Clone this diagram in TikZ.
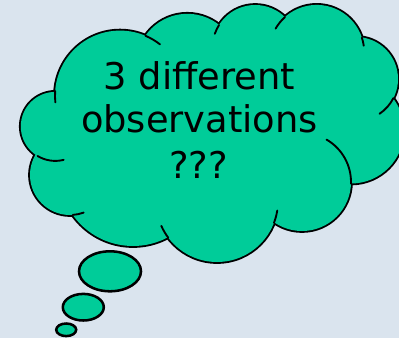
\documentclass[tikz,border=0pt]{standalone}
\usepackage{fontspec}
\setmainfont{DejaVu Sans}
\definecolor{bg}{RGB}{218,228,238}
\definecolor{cloud}{RGB}{0,204,153}
\begin{document}
\begin{tikzpicture}[x=0.75pt,y=-0.75pt,
  lobe/.style={draw=black,line width=2.8pt},
  stub/.style={draw=black,line width=1.4pt,line cap=round},
  bubble/.style={draw=black,fill=cloud,line width=1.9pt},
  txt/.style={font=\fontsize{27.6pt}{33pt}\selectfont,anchor=base,inner sep=0pt}]
\fill[bg] (0,0) rectangle (399,338);
\useasboundingbox (0,0) rectangle (399,338);
% lobe centres (pixel coordinates, y downwards)
\coordinate (L0) at (55.3,126.4);
\coordinate (L1) at (120,95.6);
\coordinate (L2) at (187.3,64.8);
\coordinate (L3) at (255.2,47.7);
\coordinate (L4) at (316.7,52.4);
\coordinate (L5) at (356,79);
\coordinate (L10) at (351,130.5);
\coordinate (L9) at (302,182);
\coordinate (L8) at (217,201);
\coordinate (L7) at (133,172);
\coordinate (L6) at (70,175);
% outline (outer half of a thick stroke survives the fill)
\foreach \n/\r in {L0/34.5,L1/65,L2/51,L3/42.7,L4/47.5,L5/42,L10/53,L9/49,L8/61,L7/74,L6/40}
  \draw[lobe] (\n) circle[radius=\r];
\foreach \n/\r in {L0/34.5,L1/65,L2/51,L3/42.7,L4/47.5,L5/42,L10/53,L9/49,L8/61,L7/74,L6/40}
  \fill[cloud] (\n) circle[radius=\r];
\fill[cloud] (L0) -- (L1) -- (L2) -- (L3) -- (L4) -- (L5) -- (L10) -- (L9) -- (L8) -- (L7) -- (L6) -- cycle;
% inner arcs
\draw[stub] ([shift={(L1)}]-67:65) arc[start angle=-67,end angle=-52,radius=65];
\draw[stub] ([shift={(L1)}]184:65) arc[start angle=184,end angle=174,radius=65];
\draw[stub] ([shift={(L0)}]121:34.5) arc[start angle=121,end angle=76,radius=34.5];
\draw[stub] ([shift={(L6)}]86:40) arc[start angle=86,end angle=70,radius=40];
\draw[stub] ([shift={(L8)}]143:61) arc[start angle=143,end angle=156,radius=61];
\draw[stub] ([shift={(L8)}]21:61) arc[start angle=21,end angle=9,radius=61];
\draw[stub] ([shift={(L9)}]2:49) arc[start angle=2,end angle=-60,radius=49];
\draw[stub] ([shift={(L5)}]27:42) arc[start angle=27,end angle=56,radius=42];
\draw[stub] ([shift={(L4)}]-18:47.5) arc[start angle=-18,end angle=-8,radius=47.5];
\draw[stub] ([shift={(L4)}]228:47.5) arc[start angle=228,end angle=210,radius=47.5];
\draw[stub] ([shift={(L3)}]212:42.7) arc[start angle=212,end angle=199,radius=42.7];
% thought bubbles
\draw[bubble] (110,271.3) ellipse[x radius=31,y radius=20];
\draw[bubble] (83.3,307.2) ellipse[x radius=20.5,y radius=13.3];
\draw[bubble] (66.2,329.8) ellipse[x radius=10,y radius=6.3];
% text
\node[txt] (t1) at (199.5,89.3) {3 different};
\node[txt] (t2) at (199.5,132.7) {observations};
\node[txt] (t3) at (198.5,179) {???};
\end{tikzpicture}
\end{document}
